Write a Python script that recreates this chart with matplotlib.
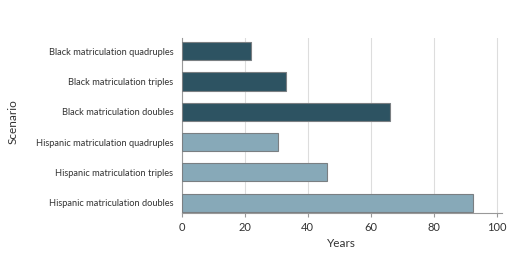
import matplotlib.pyplot as plt

scenarios = ['Hispanic matriculation doubles', 'Hispanic matriculation triples',
             'Hispanic matriculation quadruples', 'Black matriculation doubles',
             'Black matriculation triples', 'Black matriculation quadruples']
years = [92.3, 46, 30.5, 66.1, 33.1, 21.9]
colors = ['#87a9b8', '#87a9b8', '#87a9b8', '#2d5362', '#2d5362', '#2d5362']

plt.rcParams['font.family'] = ['Lato', 'DejaVu Sans']

fig = plt.figure(figsize=(5.32, 2.54), dpi=100)
ax = fig.add_axes([0.3415, 0.1626, 0.6015, 0.6874])

ax.barh(range(len(scenarios)), years, height=0.6, color=colors,
        edgecolor='#7a7f82', linewidth=0.8, zorder=3)
ax.set_yticks(range(len(scenarios)))
ax.set_yticklabels(scenarios, fontsize=6.7, color='#333333')
ax.set_xlim(0, 101.5)
ax.set_ylim(-0.33, 5.43)
ax.set_xticks([0, 20, 40, 60, 80, 100])
ax.tick_params(axis='x', labelsize=8, colors='#333333', length=3, color='#999999')
ax.tick_params(axis='y', length=0, pad=6)
ax.xaxis.grid(True, color='#dddddd', linewidth=0.8, zorder=0)

for s in ['top', 'right']:
    ax.spines[s].set_visible(False)
for s in ['left', 'bottom']:
    ax.spines[s].set_color('#999999')
    ax.spines[s].set_linewidth(0.8)

ax.set_xlabel('Years', fontsize=8.5, color='#333333', labelpad=4)
fig.text(0.025, 0.52, 'Scenario', rotation=90, fontsize=8.5, color='#333333',
         va='center', ha='center')

fig.savefig('out.png', dpi=100)
